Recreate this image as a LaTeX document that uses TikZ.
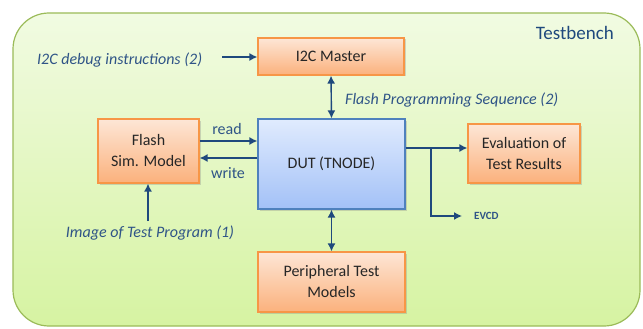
\documentclass[tikz,border=0pt]{standalone}
\usepackage{fontspec}
\setmainfont{Carlito}
\usetikzlibrary{arrows.meta,shadows}
\definecolor{tbtop}{HTML}{F1FBE2}
\definecolor{tbbot}{HTML}{D6F3A2}
\definecolor{tbline}{HTML}{9BBB59}
\definecolor{otop}{HTML}{FDE6D6}
\definecolor{obot}{HTML}{FBB17C}
\definecolor{oline}{HTML}{F79646}
\definecolor{btop}{HTML}{E0EBFE}
\definecolor{bbot}{HTML}{A3C1F7}
\definecolor{bline}{HTML}{4F81BD}
\definecolor{arr}{HTML}{1F497D}
\definecolor{lbl}{HTML}{2F5487}
\tikzset{
  x=1pt,y=-1pt,
  obox/.style={draw=oline,line width=1.2pt,top color=otop,bottom color=obot,
    align=center,font=\fontsize{16}{21}\selectfont,text=black!85,
    drop shadow={shadow xshift=1.5pt,shadow yshift=-1.5pt,opacity=0.3}},
  bbox/.style={draw=bline,line width=1.2pt,top color=btop,bottom color=bbot,
    align=center,font=\fontsize{16}{21}\selectfont,text=black!85,
    drop shadow={shadow xshift=1.5pt,shadow yshift=-1.5pt,opacity=0.3}},
  conn/.style={draw=arr,line width=1.4pt,-{Latex[length=8pt,width=8pt]}},
  conn2/.style={draw=arr,line width=1.4pt,{Latex[length=8pt,width=8pt]}-{Latex[length=8pt,width=8pt]}},
  lab/.style={text=lbl,font=\fontsize{16}{18}\selectfont\itshape,inner sep=0pt},
  ulab/.style={text=lbl,font=\fontsize{16}{18}\selectfont,inner sep=0pt},
}
\begin{document}
\begin{tikzpicture}
\useasboundingbox (0,0) rectangle (643,329);
\fill[white] (0,0) rectangle (643,329);
\draw[tbline,line width=1.2pt,top color=tbtop,bottom color=tbbot,rounded corners=36pt]
  (13,13) rectangle (640,326);
\node[anchor=east,text=arr,font=\fontsize{19}{22}\selectfont,inner sep=0pt] (tb) at (614,33) {Testbench};

\node[obox,minimum width=146pt,minimum height=37pt] (i2c) at (331,56.5) {I2C Master};
\node[bbox,minimum width=147pt,minimum height=90pt] (dut) at (331.5,164) {DUT (TNODE)};
\node[obox,minimum width=101pt,minimum height=64pt] (flash) at (148.5,151) {Flash\\Sim. Model};
\node[obox,minimum width=112pt,minimum height=59pt] (eval) at (524,153.5) {Evaluation of\\Test Results};
\node[obox,minimum width=147pt,minimum height=60pt] (per) at (331.5,282) {Peripheral Test\\Models};

\node[lab,anchor=west] (dbg) at (37,60) {I2C debug instructions (2)};
\coordinate (dbgs) at (222,57);
\draw[conn] (dbgs) -- (dbgs -| i2c.west);

\draw[conn2] (i2c.south) -- (dut.north);
\node[lab,anchor=west] (fps) at (345,100) {Flash Programming Sequence (2)};

\coordinate (rd) at (0,141);
\coordinate (wr) at (0,158);
\draw[conn] (rd -| flash.east) -- (rd -| dut.west);
\draw[conn] (wr -| dut.west) -- (wr -| flash.east);
\node[ulab] (readl) at (227,129) {read};
\node[ulab] (writel) at (228,173) {write};

\node[lab] (img) at (150,233) {Image of Test Program (1)};
\coordinate (imgs) at (148,221);
\draw[conn] (imgs) -- (imgs |- flash.south);

\draw[conn2] (dut.south) -- (per.north);

\coordinate (ev) at (0,148);
\draw[conn] (ev -| dut.east) -- (ev -| eval.west);
\coordinate (br) at (431,148);
\coordinate (evcdend) at (462,216);
\draw[conn] (br) |- (evcdend);
\node[anchor=west,text=lbl,font=\fontsize{11}{13}\selectfont\bfseries,inner sep=0pt] (evcd) at (474,216) {EVCD};
\end{tikzpicture}
\end{document}
